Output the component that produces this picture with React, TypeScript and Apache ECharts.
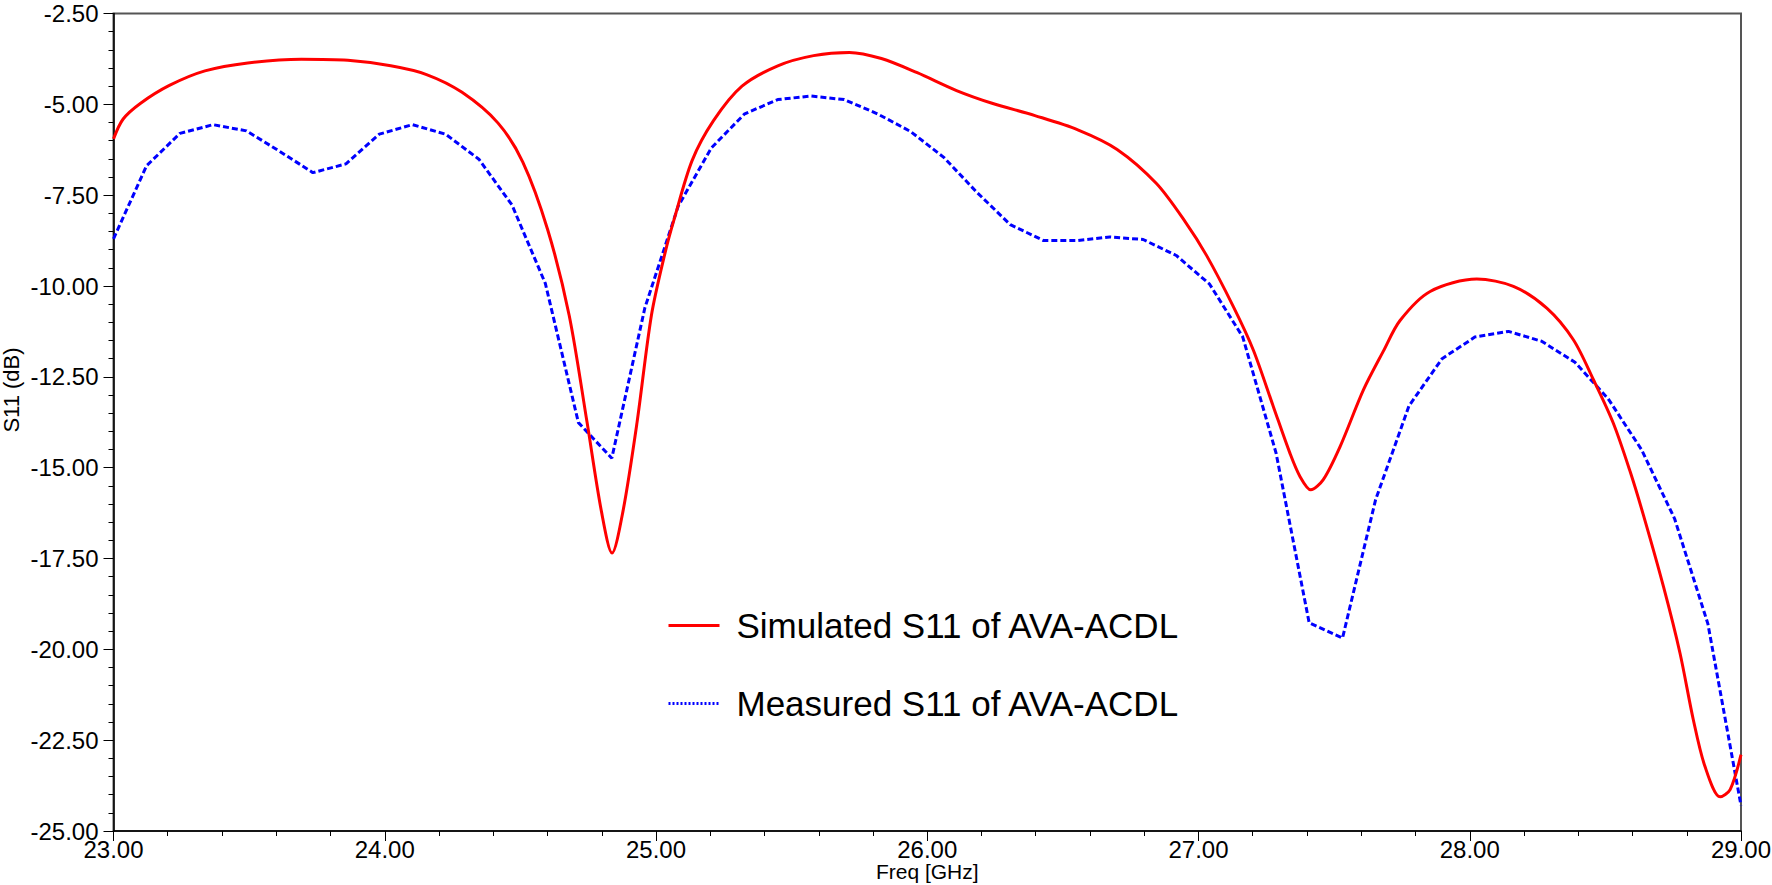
import React, { useEffect, useRef } from "react";
import * as echarts from "echarts";

// Simulated S11 (GHz, dB)
const simFreq = [
  23.0, 23.035, 23.1, 23.206, 23.337, 23.495, 23.693, 23.864, 24.022, 24.154,
  24.285, 24.417, 24.509, 24.601, 24.68, 24.746, 24.799, 24.838, 24.878, 24.93,
  24.983, 25.033, 25.067, 25.133, 25.212, 25.317, 25.449, 25.581, 25.713, 25.831,
  25.963, 26.108, 26.239, 26.397, 26.555, 26.7, 26.845, 26.95, 27.029, 27.128,
  27.202, 27.276, 27.337, 27.374, 27.414, 27.46, 27.522, 27.608, 27.681, 27.743,
  27.854, 28.026, 28.161, 28.284, 28.382, 28.456, 28.529, 28.591, 28.64, 28.714,
  28.775, 28.824, 28.867, 28.923, 28.96, 29.0,
];
const simS11 = [
  -5.95, -5.41, -4.97, -4.48, -4.08, -3.86, -3.76, -3.79, -3.94, -4.18,
  -4.67, -5.51, -6.59, -8.46, -10.81, -13.76, -16.21, -17.35, -16.21, -13.76,
  -10.81, -9.1, -8.16, -6.55, -5.45, -4.5, -3.94, -3.66, -3.57, -3.74,
  -4.13, -4.62, -4.97, -5.31, -5.7, -6.24, -7.18, -8.22, -9.15, -10.56,
  -11.76, -13.32, -14.6, -15.24, -15.61, -15.33, -14.42, -12.86, -11.8, -10.95,
  -10.15, -9.81, -10.01, -10.61, -11.48, -12.58, -13.77, -15.1, -16.3, -18.27,
  -20.1, -21.93, -23.22, -24.06, -23.86, -22.9,
];

// Measured S11 (GHz, dB)
const measFreq = [
  23.0, 23.122, 23.245, 23.367, 23.49, 23.612, 23.735, 23.857, 23.98, 24.102,
  24.224, 24.347, 24.469, 24.592, 24.714, 24.837, 24.959, 25.082, 25.204, 25.327,
  25.449, 25.571, 25.694, 25.816, 25.939, 26.061, 26.184, 26.306, 26.429, 26.551,
  26.673, 26.796, 26.918, 27.041, 27.163, 27.286, 27.408, 27.531, 27.653, 27.776,
  27.898, 28.02, 28.143, 28.265, 28.388, 28.51, 28.633, 28.755, 28.878, 29.0,
];
const measS11 = [
  -8.7, -6.69, -5.8, -5.56, -5.73, -6.29, -6.88, -6.64, -5.82, -5.56,
  -5.82, -6.51, -7.77, -9.93, -13.76, -14.74, -10.6, -7.8, -6.2, -5.26,
  -4.87, -4.77, -4.87, -5.26, -5.75, -6.46, -7.43, -8.31, -8.75, -8.75,
  -8.65, -8.72, -9.16, -9.95, -11.4, -14.6, -19.27, -19.69, -15.88, -13.3,
  -12.0, -11.4, -11.25, -11.52, -12.1, -13.1, -14.5, -16.4, -19.3, -24.3,
];

const seriesNames = ["Simulated S11 of AVA-ACDL", "Measured S11 of AVA-ACDL"];
const xTitle = "Freq [GHz]";
const yTitle = "S11 (dB)";

const FONT = "'Liberation Sans', Arial, sans-serif";

export default function App() {
  const ref = useRef<HTMLDivElement>(null);

  useEffect(() => {
    document.body.style.margin = "0";
    if (!ref.current) return;
    const chart = echarts.init(ref.current, undefined, { renderer: "svg" });
    const simData = simFreq.map((f, i) => [f, simS11[i]]);
    const measData = measFreq.map((f, i) => [f, measS11[i]]);

    chart.setOption({
      animation: false,
      backgroundColor: "#ffffff",
      textStyle: { fontFamily: FONT },
      grid: {
        left: 113.5,
        right: 31,
        top: 13.5,
        bottom: 54,
        show: true,
        borderColor: "#555555",
        borderWidth: 2,
        containLabel: false,
        outerBoundsMode: "none",
      },
      legend: {
        orient: "vertical",
        left: 662,
        top: 603,
        itemWidth: 51,
        itemHeight: 14,
        itemGap: 43,
        itemStyle: { opacity: 0 },
        data: [
          { name: seriesNames[0], lineStyle: { width: 3, type: "solid", color: "#ff0000" } },
          { name: seriesNames[1], lineStyle: { width: 3, type: [2, 2], color: "#0000ff" } },
        ],
        textStyle: {
          fontSize: 35,
          color: "#000",
          fontFamily: FONT,
          padding: [0, 0, 0, 12],
        },
      },
      xAxis: {
        type: "value",
        min: 23,
        max: 29,
        interval: 1,
        name: xTitle,
        nameLocation: "middle",
        nameGap: 30,
        nameMoveOverlap: false,
        nameTextStyle: { fontSize: 21, lineHeight: 21, color: "#000", fontFamily: FONT },
        axisLine: { show: true, onZero: false, lineStyle: { color: "#000", width: 1.5 } },
        axisTick: { show: true, inside: false, length: 10, lineStyle: { color: "#000" } },
        minorTick: { show: true, splitNumber: 5, length: 5, lineStyle: { color: "#000" } },
        splitLine: { show: false },
        axisLabel: {
          fontSize: 24,
          lineHeight: 24,
          color: "#000",
          margin: 6,
          fontFamily: FONT,
          formatter: (v: number) => v.toFixed(2),
        },
      },
      yAxis: {
        type: "value",
        min: -25,
        max: -2.5,
        interval: 2.5,
        axisLine: { show: true, onZero: false, lineStyle: { color: "#000", width: 1.5 } },
        axisTick: { show: true, inside: false, length: 10, lineStyle: { color: "#000" } },
        minorTick: { show: true, splitNumber: 5, length: 5, lineStyle: { color: "#000" } },
        splitLine: { show: false },
        axisLabel: {
          fontSize: 24,
          color: "#000",
          margin: 15,
          fontFamily: FONT,
          formatter: (v: number) => v.toFixed(2),
        },
      },
      graphic: [
        {
          type: "text",
          x: 11,
          y: 390,
          rotation: Math.PI / 2,
          style: {
            text: yTitle,
            fontSize: 22,
            fill: "#000",
            fontFamily: FONT,
            align: "center",
            verticalAlign: "middle",
          },
        },
      ],
      series: [
        {
          name: seriesNames[0],
          type: "line",
          data: simData,
          symbol: "none",
          smooth: 0.3,
          lineStyle: { color: "#ff0000", width: 3, type: "solid" },
          itemStyle: { color: "#ff0000" },
          z: 3,
        },
        {
          name: seriesNames[1],
          type: "line",
          data: measData,
          symbol: "none",
          smooth: false,
          lineStyle: { color: "#0000ff", width: 3, type: [6, 3] },
          itemStyle: { color: "#0000ff" },
          z: 2,
        },
      ],
    });

    return () => chart.dispose();
  }, []);

  return <div ref={ref} style={{ width: 1772, height: 885 }} />;
}
